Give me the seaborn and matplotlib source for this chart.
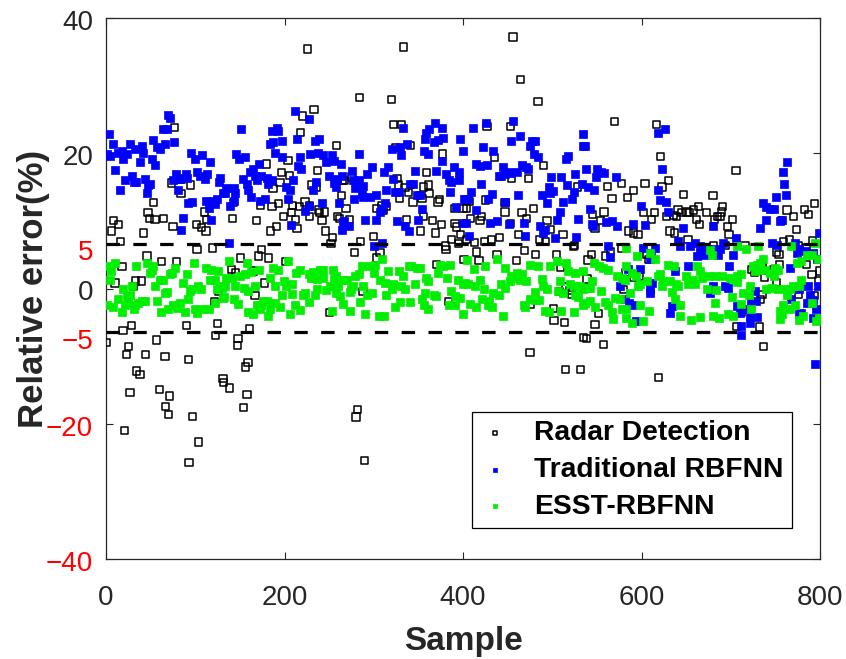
import matplotlib
matplotlib.use("Agg")
import matplotlib.pyplot as plt
import matplotlib.transforms as mtransforms
import seaborn as sns
import pandas as pd

# ---------------- data ----------------
radar_x = [77,73,80,85,84,95,53,47,49,55,64,8,14,6,42,75,101,107,112,113,110,16,102,119,46,62,79,18,33,40,10,31,126,122,0,19,29,57,90,125,123,25,23,44,66,92,34,38,27,60,71,67,70,97,21,104,93,131,132,
           226,233,220,218,258,180,204,197,206,195,187,237,230,236,265,264,143,173,186,193,209,217,223,228,238,245,239,242,259,262,142,169,199,208,212,228,184,191,214,246,254,252,174,171,182,151,141,145,165,178,167,250,161,148,147,159,156,138,158,154,201,
           333,284,320,322,331,324,341,377,275,267,326,328,335,339,329,344,354,356,362,361,359,372,374,391,400,269,303,309,314,311,337,356,366,376,391,393,273,352,369,397,387,395,380,381,300,285,278,307,303,370,401,288,384,282,280,290,
           456,464,484,427,453,435,490,454,473,528,425,447,407,404,479,408,421,419,466,471,447,494,498,453,462,512,525,524,404,413,424,432,441,486,492,415,438,469,481,505,418,460,509,515,519,522,508,476,501,502,514,475,515,532,535,
           570,617,621,630,604,578,562,567,584,591,623,647,545,558,554,548,602,615,611,628,641,645,651,654,658,664,662,665,636,639,585,591,596,632,637,652,544,540,560,565,578,606,608,582,591,598,539,580,552,548,538,557,619,
           706,680,794,783,787,763,770,757,673,682,688,691,690,685,702,696,698,774,681,694,716,759,766,776,785,792,751,754,755,748,735,727,723,800,798,791,777,785,738,735,733,751,794,707,732,737,776,712]
radar_y = [23.8,15.6,16.1,16.2,14.1,15.3,12.7,11.2,10.3,10.2,10.3,10.0,9.5,8.5,8.2,9.2,9.5,9.0,8.5,10.2,11.3,7.0,5.8,6.0,4.8,4.0,4.0,3.3,1.1,1.1,0.8,0.3,-0.4,-2.0,-8.0,-6.2,-5.5,-7.6,-5.5,-5.2,-6.9,-8.6,-9.8,-9.8,-10.0,-10.5,-12.2,-12.7,-15.4,-14.9,-15.9,-17.4,-18.6,-18.9,-21.0,-22.7,-25.7,-13.3,-13.9,
           35.4,26.5,25.5,23.1,21.1,18.4,18.9,17.2,16.7,15.7,14.8,17.4,15.3,15.0,16.0,13.8,12.7,12.3,12.1,12.6,12.3,12.1,12.8,12.2,11.6,11.3,11.2,10.0,10.7,10.3,10.3,10.1,10.6,11.2,10.2,10.6,8.5,9.2,8.9,8.5,7.5,6.7,5.8,4.8,4.5,4.5,2.8,2.3,2.6,0.8,-1.0,-3.5,-5.9,-7.4,-8.4,-11.0,-11.6,-14.7,-15.7,-17.6,4.0,
           35.7,28.2,27.9,24.2,24.2,20.8,21.1,19.9,16.5,16.0,16.3,15.3,14.9,14.2,13.3,12.8,13.3,15.0,14.1,15.3,17.2,12.8,13.2,11.8,11.8,11.8,11.8,12.3,12.1,11.5,10.2,10.7,10.0,9.5,9.6,9.1,10.2,8.5,8.2,8.0,7.2,6.7,6.3,5.8,7.7,7.0,5.3,5.3,4.5,3.5,4.3,-0.4,-1.9,-17.9,-19.0,-25.4,
           37.2,30.9,27.7,24.0,24.0,19.4,18.2,16.3,16.3,15.0,13.1,12.7,12.9,11.9,11.8,10.3,10.6,10.0,11.2,10.3,11.3,10.1,8.7,9.6,8.0,8.0,6.4,6.2,7.2,6.8,7.0,7.2,7.5,7.2,7.0,5.4,5.0,5.6,5.0,5.0,4.1,4.1,3.1,0.3,-0.3,-0.9,-0.4,-2.4,-3.0,-4.7,-5.0,-9.5,-12.0,-12.0,-7.3,
           24.7,24.2,19.5,16.0,15.5,15.5,15.1,13.3,13.5,14.5,15.0,13.9,10.9,11.3,10.0,8.9,11.2,11.2,10.2,10.7,11.6,11.2,11.3,11.2,11.6,12.1,10.2,9.5,10.8,10.7,8.5,8.2,8.0,8.5,8.2,7.2,5.0,4.2,4.8,5.5,5.9,5.0,4.3,2.4,1.6,1.8,1.4,-0.2,-3.7,-5.3,-7.4,-8.3,-13.2,
           17.4,13.8,12.6,11.7,10.9,11.6,10.6,10.0,11.2,10.2,10.7,12.1,11.3,10.7,10.2,9.2,8.0,8.7,6.4,6.4,6.4,7.0,7.2,6.4,6.0,7.1,5.4,5.0,3.5,2.8,3.3,2.4,2.8,2.6,1.1,2.1,0.1,3.5,1.6,-0.9,-1.6,0.9,-1.0,-5.6,-5.7,-8.6,-0.8,-3.6]

trad_x = [3,8,1,5,10,16,14,18,19,23,21,27,29,31,33,34,38,40,42,44,46,47,49,51,53,55,57,60,64,66,68,70,72,76,78,75,81,83,90,91,92,96,95,100,102,105,108,111,113,116,112,115,118,120,124,122,127,128,131,86,84,
          212,227,151,186,192,193,184,187,197,189,197,214,234,239,146,149,156,171,165,161,167,169,174,180,182,186,154,158,159,163,135,133,145,143,143,139,173,178,202,206,209,204,217,219,215,229,238,243,247,253,255,263,250,259,256,258,264,235,232,227,223,242,261,207,264,266,138,
          369,362,359,357,367,372,378,377,397,400,333,321,329,337,331,356,361,376,284,276,292,298,311,316,346,370,381,384,387,390,395,396,385,322,277,283,288,279,287,288,278,296,303,314,324,328,341,344,348,352,354,401,392,313,309,307,303,290,326,335,339,350,267,272,309,300,400,
          411,426,456,464,454,477,481,475,479,484,534,535,518,515,434,422,415,419,427,445,447,440,443,451,454,460,466,471,473,510,499,525,516,524,496,497,501,488,494,512,522,533,462,420,409,432,428,402,406,415,447,403,430,438,451,468,486,490,492,509,505,529,407,469,503,527,
          537,538,550,555,558,549,571,540,547,542,544,546,560,567,573,591,604,599,623,618,621,627,630,619,626,647,641,643,654,660,665,662,665,668,562,565,602,615,611,610,598,585,637,652,576,582,586,590,610,610,612,594,632,634,
          763,758,760,762,751,736,740,744,748,739,733,755,757,680,799,706,691,673,680,688,746,752,772,774,777,783,792,797,766,671,686,702,698,680,677,694,697,727,723,728,787,798,777,789,785,792,768,707,714,710,722,729,722,712,711,776,779,792,796,794]
trad_y = [22.9,21.4,19.9,19.6,17.5,14.5,20.1,20.4,19.1,19.9,16.0,21.4,16.6,15.8,20.6,15.8,18.7,21.1,20.1,16.2,14.1,15.3,15.4,19.2,21.9,18.2,20.9,20.6,23.6,21.4,23.6,25.6,25.2,21.6,17.0,16.0,14.5,16.2,17.0,16.3,12.7,12.8,20.1,19.2,17.2,16.6,19.7,16.2,17.0,18.7,12.9,11.9,10.2,12.9,13.2,12.5,15.8,16.3,14.1,10.4,8.6,
          26.2,25.0,23.6,23.3,23.7,23.3,21.3,21.6,21.8,20.0,19.4,22.1,21.8,22.1,19.9,19.2,19.4,18.4,17.7,17.3,16.7,16.0,16.7,16.3,15.5,16.1,16.2,15.5,14.5,13.5,14.8,14.1,14.1,14.8,12.9,12.2,13.0,13.2,15.0,14.5,16.0,13.3,19.4,17.7,18.1,19.9,20.0,19.7,18.7,19.8,18.9,18.4,16.7,16.2,15.6,15.0,16.6,15.7,14.5,12.2,11.4,12.6,12.6,9.4,8.7,9.8,6.8,
          24.5,23.6,23.0,22.1,21.6,22.0,22.3,23.7,22.1,20.4,23.8,20.6,20.9,21.3,19.7,20.4,19.9,18.9,19.9,17.4,17.0,17.9,17.2,17.9,17.4,17.4,17.0,16.0,15.7,17.9,17.2,16.0,14.3,16.2,16.0,16.0,15.2,14.8,14.0,13.6,13.3,13.5,13.8,14.5,14.3,14.3,15.5,15.5,13.8,13.8,11.8,13.3,12.1,12.6,11.8,11.3,10.2,10.2,10.0,9.2,8.5,10.2,10.0,9.2,6.7,6.3,9.7,
          23.8,24.5,24.8,22.6,21.8,21.8,21.8,21.0,19.9,19.4,22.9,21.1,19.6,19.1,20.4,20.9,18.4,18.1,18.2,18.0,16.9,16.7,16.7,17.2,17.1,17.2,18.2,17.9,17.7,16.5,16.5,16.9,15.3,14.3,15.0,14.1,14.4,13.8,12.7,12.8,13.3,15.5,13.8,15.5,14.3,14.0,13.3,13.3,13.3,11.6,12.8,9.7,9.7,10.0,9.5,9.7,9.2,8.2,8.7,11.3,10.2,10.3,7.8,7.8,7.5,7.6,
          21.1,17.7,17.6,17.3,17.1,16.5,16.5,15.0,14.5,11.8,9.6,9.2,9.8,10.0,9.2,9.5,9.4,12.2,17.7,14.5,13.1,12.8,11.3,23.0,23.6,9.0,7.0,6.3,6.3,6.8,6.3,4.8,5.3,5.8,6.3,4.6,6.0,6.0,5.3,4.4,2.9,2.9,2.6,3.3,0.3,-1.5,-2.1,-2.4,-0.1,-0.6,0.8,-4.8,-3.6,-2.6,
          18.7,17.2,15.5,13.8,13.5,12.7,12.0,11.7,11.8,10.1,8.9,10.0,10.2,9.2,8.2,7.5,6.8,5.8,5.9,5.9,6.8,6.5,6.8,5.3,5.8,5.5,5.3,4.4,3.1,5.0,5.0,5.0,3.3,0.3,-0.6,0.3,0.1,-0.4,-2.0,-1.9,0.3,0.3,-0.1,-0.9,-2.1,-1.7,-1.6,-2.6,-3.1,-3.6,-4.1,-4.2,-5.1,-5.6,-6.9,-3.8,-3.6,-4.3,-3.1,-11.2]

esst_x = [3,10,6,5,1,8,14,18,19,23,27,29,25,21,31,34,33,36,40,44,46,49,51,53,55,57,60,62,64,66,68,70,72,74,77,75,79,83,86,88,91,92,94,96,99,100,102,103,107,109,112,115,116,118,122,124,126,128,130,122,131,
          138,158,135,141,150,156,163,171,187,193,204,217,213,227,232,240,243,254,258,266,133,145,167,184,189,199,208,202,230,236,243,256,132,143,148,155,159,169,176,180,174,184,189,195,197,208,212,221,223,228,234,236,247,251,260,258,262,265,159,165,172,182,206,217,253,
          287,296,301,300,309,316,328,339,342,348,352,374,385,378,279,283,270,307,313,322,333,331,346,359,361,372,382,394,400,277,288,273,275,292,298,314,320,335,357,367,370,386,391,397,285,273,290,306,311,324,329,341,354,356,361,384,391,400,
          404,412,425,438,447,460,475,484,497,505,515,518,525,535,402,406,413,419,424,434,440,443,447,453,454,458,464,466,471,488,490,494,509,520,524,531,534,507,512,525,529,429,421,428,432,408,415,445,468,469,475,481,481,485,492,496,510,524,535,
          547,552,557,563,583,595,610,615,583,589,572,578,594,582,598,596,606,619,621,624,623,630,636,639,632,641,650,652,658,660,662,665,668,544,539,542,555,542,537,548,559,563,567,568,570,576,587,583,598,608,602,589,634,637,643,643,656,665,583,578,
          677,679,707,717,730,768,794,785,791,798,774,779,725,729,733,736,727,731,738,744,750,753,748,675,682,690,699,703,707,712,707,722,740,746,762,766,770,777,673,684,701,714,721,753,763,755,757,755,759,766,772,682,711,723,680,687,697,703,777,781,795,799,791,779]
esst_y = [3.3,3.8,2.6,1.3,-2.5,-2.7,-1.6,-3.5,-0.1,-1.1,-0.9,0.3,-2.1,-2.4,-3.1,3.3,-2.5,-2.1,-1.9,-1.9,3.8,2.3,2.8,3.3,0.3,-1.9,1.3,-3.5,1.3,-0.6,-0.5,-3.1,2.1,2.3,3.1,-2.4,-2.9,-2.1,0.8,-3.5,2.1,-1.5,-0.4,-0.1,3.8,-3.1,-3.6,0.3,-0.1,-3.1,3.1,-3.1,1.3,2.8,1.3,-0.1,2.6,0.3,0.1,-2.1,-1.4,
          4.0,3.8,1.6,1.6,1.8,2.1,2.4,2.8,3.1,2.8,4.0,2.8,2.3,2.1,2.4,2.8,2.8,2.8,1.8,1.3,0.3,0.3,0.3,1.6,0.3,1.1,0.6,0.3,1.6,1.4,1.6,1.4,-1.3,-1.5,-2.3,0.1,-0.4,-2.5,-1.9,-1.8,-2.5,-3.0,-2.1,-2.7,-1.0,-0.8,-2.5,-1.0,-0.6,-2.0,-1.0,0.0,-0.2,0.3,0.3,-0.6,-1.1,-2.3,-3.5,-3.7,-3.0,-4.0,-3.7,-3.2,-3.3,
          3.3,3.3,3.5,2.3,4.3,2.6,2.6,3.3,3.3,3.1,3.1,3.5,3.5,3.3,1.8,2.1,1.3,1.3,0.8,0.6,1.8,0.3,0.6,1.6,1.1,2.3,1.6,1.3,0.6,0.3,0.3,-0.5,0.0,-0.9,-0.6,-0.9,-0.1,-0.1,-0.6,-0.9,-1.1,-0.4,-1.1,-1.4,-2.0,-3.3,-3.7,-4.1,-4.0,-2.7,-2.0,-2.0,-1.5,-2.4,-3.0,-2.5,-2.5,-3.7,
          4.2,2.9,3.3,4.4,3.1,2.3,3.5,3.3,3.3,4.0,3.8,2.6,2.3,2.6,0.8,0.6,0.3,1.3,0.0,-0.6,-1.0,0.6,0.1,1.1,1.8,1.6,1.3,2.1,1.1,1.4,0.3,-0.1,1.1,0.6,0.3,0.3,-0.1,-0.3,-0.6,-1.0,-1.3,-1.9,-1.5,-2.5,-2.7,-2.3,-2.7,-4.0,-2.4,-2.7,-1.5,-0.5,-1.7,-1.7,-3.3,-3.5,-3.3,-3.5,-2.5,
          3.8,3.3,3.1,2.7,6.0,4.8,5.3,4.3,3.3,2.3,1.8,1.6,1.8,1.3,0.6,0.3,1.1,1.8,2.1,1.1,0.3,3.5,3.3,0.6,1.1,0.3,1.8,0.6,1.3,0.6,3.3,2.6,1.6,1.1,0.1,0.1,-0.4,-1.9,-2.1,-2.7,-2.0,-2.4,-3.5,-4.5,-1.4,-1.6,-0.6,-3.1,-2.5,-3.3,-4.8,-5.1,-0.5,-1.5,-2.5,-4.0,-4.7,-4.2,-4.3,-3.0,
          5.7,4.9,6.3,5.8,6.3,6.3,6.7,5.0,5.0,4.4,3.8,4.0,3.3,3.5,3.8,4.3,2.6,2.8,2.8,2.3,3.1,2.8,1.8,1.8,1.8,1.8,1.6,1.4,1.8,2.2,0.9,0.3,-0.1,0.1,0.0,-0.1,0.3,0.3,0.0,-0.2,-1.2,-0.6,-1.0,-0.1,-0.9,-3.3,-3.8,-4.5,-2.4,-3.0,-2.5,-2.2,-2.3,-3.1,-4.0,-4.4,-3.8,-4.1,-4.6,-4.0,-4.8,-4.4,-2.1,1.3]

series_names = ["Radar Detection", "Traditional RBFNN", "ESST-RBFNN"]
threshold_upper = 6.6
threshold_lower = -6.4
xtick_values = [0, 200, 400, 600, 800]
ytick_values = [-40, -20, 0, 20, 40]
ytick_labels = ["\u221240", "\u221220", "0", "20", "40"]
ytick_colors = ["red", "red", "#262626", "#262626", "#262626"]
extra_labels = [("5", 5.25), ("\u22125", -7.9)]

# ---------------- plotting ----------------
sns.set_theme(style="white")
plt.rcParams["font.family"] = ["Liberation Sans", "DejaVu Sans"]

fig = plt.figure(figsize=(8.46, 6.59), dpi=100)
ax = fig.add_axes([106/846, 1-559/659, (820-106)/846, (559-18)/659])

df_r = pd.DataFrame({"x": radar_x, "y": radar_y})
df_t = pd.DataFrame({"x": trad_x, "y": trad_y})
df_e = pd.DataFrame({"x": esst_x, "y": esst_y})

sns.scatterplot(data=df_r, x="x", y="y", marker="s", s=27, facecolor="none",
                edgecolor="black", linewidth=1.1, ax=ax, label=series_names[0], zorder=3)
sns.scatterplot(data=df_t, x="x", y="y", marker="s", s=30, color="#0000ff",
                edgecolor="#0000ff", linewidth=0.5, ax=ax, label=series_names[1], zorder=4)
sns.scatterplot(data=df_e, x="x", y="y", marker="s", s=30, color="#00ee00",
                edgecolor="#00ee00", linewidth=0.5, ax=ax, label=series_names[2], zorder=5)

for yv in (threshold_upper, threshold_lower):
    ax.axhline(yv, color="black", lw=2.3, linestyle=(0, (4.2, 4.2)), zorder=6)

ax.set_xlim(0, 800)
ax.set_ylim(-40, 40)
ax.set_xticks(xtick_values)
ax.set_xticklabels([str(v) for v in xtick_values])
ax.set_yticks(ytick_values)
ax.set_yticklabels([])

ax.tick_params(axis="both", direction="in", length=5, width=0.8, color="#262626",
               top=True, right=True, bottom=True, left=True, labelsize=20)
ax.tick_params(axis="x", pad=19, labelcolor="#262626")

# y tick labels (drawn slightly below their ticks, as in the reference)
shift = mtransforms.ScaledTranslation(0, -5/100, fig.dpi_scale_trans)
trans = mtransforms.blended_transform_factory(ax.transAxes, ax.transData)
for yv, txt, c in zip(ytick_values, ytick_labels, ytick_colors):
    ax.text(-0.0182, yv, txt, transform=trans + shift, ha="right", va="center",
            color=c, fontsize=20, clip_on=False)
for txt, yv in extra_labels:
    ax.text(-0.0182, yv, txt, transform=trans, ha="right", va="center",
            color="red", fontsize=20, clip_on=False)

for sp in ax.spines.values():
    sp.set_visible(True)
    sp.set_color("#262626")
    sp.set_linewidth(0.9)

ax.set_xlabel("Sample", fontsize=24, fontweight="bold", color="#262626")
ax.set_ylabel("Relative error(%)", fontsize=25, fontweight="bold", color="#262626")
ax.xaxis.set_label_coords(0.5, -0.124)
ax.yaxis.set_label_coords(-0.078, 0.5)

leg = ax.legend(loc="lower left", bbox_to_anchor=(0.513, 0.057), frameon=True,
                fancybox=False, shadow=False, framealpha=1, edgecolor="black",
                markerscale=0.5, handlelength=1.0, handletextpad=0.9,
                borderpad=0.3, labelspacing=0.38, borderaxespad=0,
                prop={"weight": "bold", "size": 20.3})
leg.get_frame().set_linewidth(0.9)
for t in leg.get_texts():
    t.set_color("black")

fig.savefig("out.png", dpi=100)
